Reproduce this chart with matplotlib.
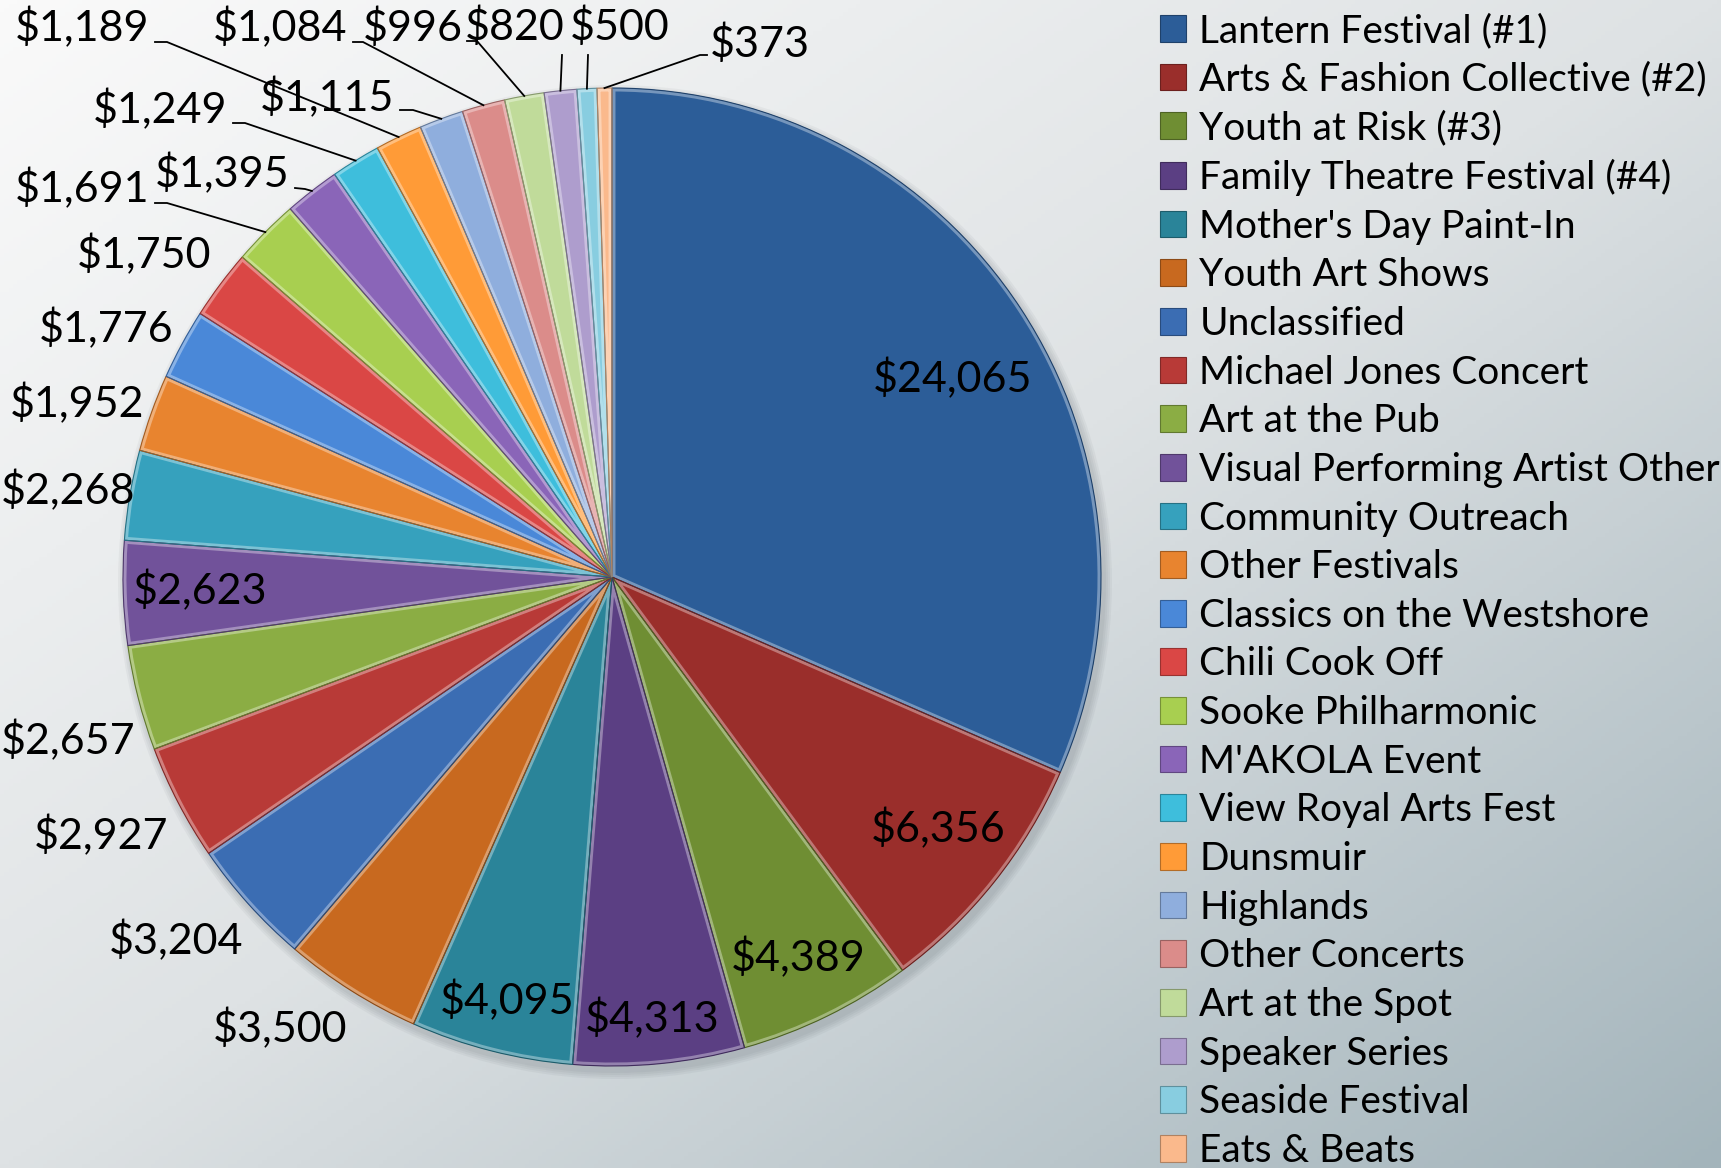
import numpy as np
import matplotlib
matplotlib.use("Agg")
import matplotlib.pyplot as plt
from matplotlib.colors import LinearSegmentedColormap, to_rgb
from matplotlib.patches import Wedge, Circle

plt.rcParams['font.family'] = ['Lato', 'DejaVu Sans']

# data
events = ["Lantern Festival (#1)", "Arts & Fashion Collective (#2)", "Youth at Risk (#3)",
          "Family Theatre Festival (#4)", "Mother's Day Paint-In", "Youth Art Shows",
          "Unclassified", "Michael Jones Concert", "Art at the Pub",
          "Visual Performing Artist Other", "Community Outreach", "Other Festivals",
          "Classics on the Westshore", "Chili Cook Off", "Sooke Philharmonic",
          "M'AKOLA Event", "View Royal Arts Fest", "Dunsmuir", "Highlands",
          "Other Concerts", "Art at the Spot", "Speaker Series", "Seaside Festival",
          "Eats & Beats"]
amounts = [24065, 6356, 4389, 4313, 4095, 3500, 3204, 2927, 2657, 2623, 2268, 1952,
           1776, 1750, 1691, 1395, 1249, 1189, 1115, 1084, 996, 820, 500, 373]

colors = ['#2C5D98', '#9A2E2B', '#6F8E33', '#5B3F83', '#2A8499', '#C8691F',
          '#3B6DB3', '#B83A37', '#8BAD44', '#71529A', '#36A1BD', '#E8842F',
          '#4A88D8', '#DA4745', '#A8CF50', '#8A65B8', '#3EBEDC', '#FF9B37',
          '#8FAEDD', '#DB8C8A', '#C0DB9A', '#AE9DCD', '#88CDE0', '#FAB98C']

W, H = 1721, 1168
CX, CY, R = 612, 577, 489


def P(x, y):
    # pixel coords (top origin) -> data coords
    return x, H - y


fig = plt.figure(figsize=(W / 100, H / 100), dpi=100)

# background gradient
bg = fig.add_axes([0, 0, 1, 1], zorder=0)
xx, yy = np.meshgrid(np.linspace(0, 1, 400), np.linspace(0, 1, 300))
t = (xx + yy) / 2
cmap = LinearSegmentedColormap.from_list('bg', [(0, '#FAFAFA'), (0.5, '#DEE2E4'), (1, '#A3B4BB')])
bg.imshow(t, cmap=cmap, aspect='auto', extent=(0, 1, 1, 0))
bg.axis('off')

ax = fig.add_axes([0, 0, 1, 1], zorder=1)
ax.patch.set_visible(False)

# soft shadow
cx, cy = P(CX, CY)
for k in range(4):
    ax.add_patch(Circle((cx + 3, cy - 5), R + 2 + 2 * k, color='#404850', alpha=0.05, lw=0, zorder=0))

wedges, _ = ax.pie(amounts, colors=colors, startangle=90, counterclock=False,
                   center=(cx, cy), radius=R,
                   wedgeprops=dict(edgecolor='none', linewidth=0))


def lighten(c, f):
    r = np.array(to_rgb(c))
    return tuple(r + (1 - r) * f)


def darken(c, f):
    return tuple(np.array(to_rgb(c)) * (1 - f))


# bevel: light inner rim and dark outline
for w, c in zip(wedges, colors):
    rim = Wedge(w.center, w.r, w.theta1, w.theta2, fill=False,
                edgecolor=lighten(c, 0.35), linewidth=5, zorder=2)
    ax.add_patch(rim)
    rim.set_clip_path(w)
    ax.add_patch(Wedge(w.center, w.r, w.theta1, w.theta2, fill=False,
                       edgecolor=darken(c, 0.3), linewidth=0.8, zorder=3))

mids = [np.deg2rad((w.theta1 + w.theta2) / 2) for w in wedges]


def on_pie(i, f):
    return cx + f * R * np.cos(mids[i]), cy + f * R * np.sin(mids[i])


fs = 31

# label centres (pixels from top-left) for the slices labelled in place
label_pos = {
    0: (953, 379), 1: (938, 829), 2: (798, 958), 3: (652, 1019), 4: (507, 1001),
    5: (280, 1029), 6: (176, 941), 7: (101, 836), 8: (68, 741), 9: (200, 591),
    10: (68, 491), 11: (77, 404), 12: (106, 329), 13: (144, 255),
}
for i, pos in label_pos.items():
    ax.text(*P(*pos), "${:,}".format(amounts[i]), fontsize=fs, ha='center', va='center', zorder=5)

# labels moved off the small slices, with leader lines
# index: (text centre, line start, stub end)
leaders = {
    14: ((82, 189), (155, 203), (167, 203)),
    15: ((222, 174), (295, 188), (305, 189)),
    16: ((160, 110), (233, 123), (245, 123)),
    17: ((82, 28), (155, 42), (167, 42)),
    18: ((327, 98), (400, 110), (413, 110)),
    19: ((280, 28), (353, 42), (363, 42)),
    20: ((413, 28), (467, 41), (477, 41)),
    21: ((515, 27), (562, 55), (562, 55)),
    22: ((620, 27), (588, 55), (588, 55)),
    23: ((760, 44), (707, 55), (700, 55)),
}
for i, (tc, s0, s1) in leaders.items():
    ax.text(*P(*tc), "${:,}".format(amounts[i]), fontsize=fs, ha='center', va='center', zorder=5)
    ex, ey = on_pie(i, 1.0)
    xs = [P(*s0)[0], P(*s1)[0], ex]
    ys = [P(*s0)[1], P(*s1)[1], ey]
    ax.plot(xs, ys, color='black', lw=1.3, zorder=4, solid_joinstyle='miter')

ax.set_xlim(0, W)
ax.set_ylim(0, H)
ax.set_aspect('equal')
ax.axis('off')

leg = ax.legend(wedges, events, loc='upper left', bbox_to_anchor=(1160 / W, 1 - 13 / H),
                bbox_transform=fig.transFigure, frameon=False, fontsize=28,
                handlelength=0.68, handleheight=0.68, handletextpad=0.33,
                labelspacing=0.325, borderpad=0, borderaxespad=0)
for h, c in zip(leg.legend_handles, colors):
    h.set_edgecolor(darken(c, 0.3))
    h.set_linewidth(0.8)

fig.savefig('out.png', dpi=100)
